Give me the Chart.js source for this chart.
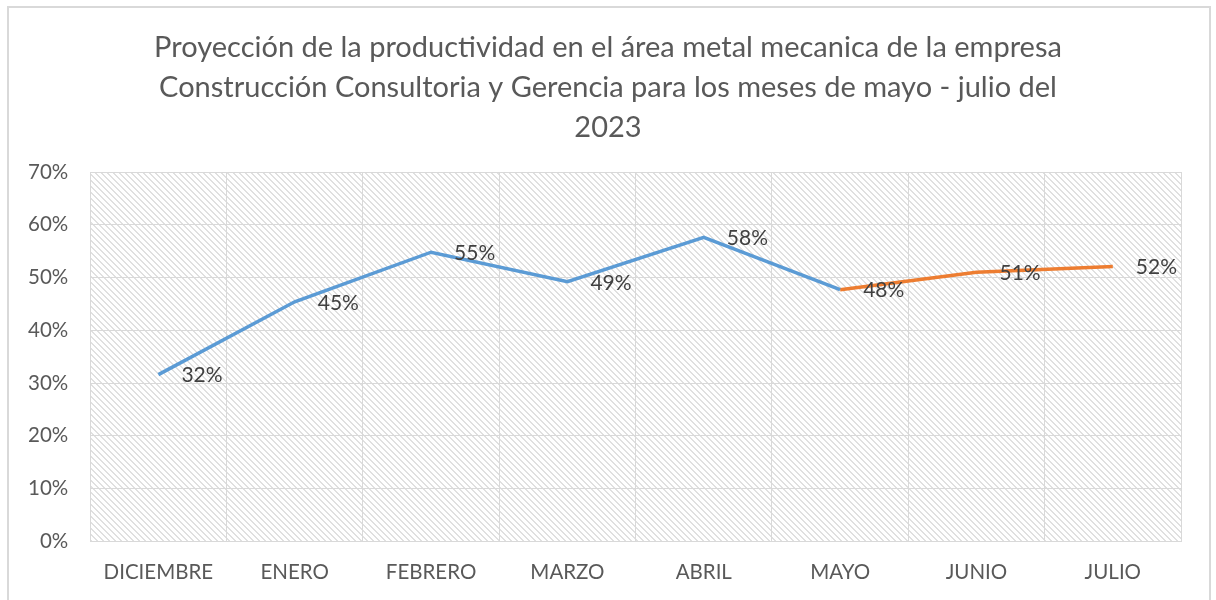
<!DOCTYPE html>
<html>
<head>
<meta charset="utf-8">
<script src="https://cdn.jsdelivr.net/npm/chart.js@4.4.0/dist/chart.umd.min.js"></script>
<style>
  html, body { margin: 0; padding: 0; background: #fff; }
  #wrap { width: 1216px; height: 600px; }
</style>
</head>
<body>
<div id="wrap"><canvas id="chart" width="1216" height="600"></canvas></div>
<script>
const months = ['DICIEMBRE', 'ENERO', 'FEBRERO', 'MARZO', 'ABRIL', 'MAYO', 'JUNIO', 'JULIO'];
const realValues = [31.6, 45.4, 54.8, 49.2, 57.6, 47.7, null, null];
const projValues = [null, null, null, null, null, 47.7, 51.0, 52.1];
const realLabels = ['32%', '45%', '55%', '49%', '58%', null, null, null];
const projLabels = [null, null, null, null, null, '48%', '51%', '52%'];
const titleLines = [
    'Proyección de la productividad en el área metal mecanica de la empresa',
    'Construcción Consultoria y Gerencia para los meses de mayo - julio del',
    '2023'
];

const FONT = 'Lato, "Open Sans", sans-serif';

// light diagonal hatch, drawn pixel by pixel so it stays crisp
function hatchPattern() {
    const n = 6;
    const c = document.createElement('canvas');
    c.width = n; c.height = n;
    const g = c.getContext('2d');
    g.fillStyle = '#ffffff';
    g.fillRect(0, 0, n, n);
    g.fillStyle = '#e0e0e0';
    for (let i = 0; i < n; i++) {
        g.fillRect(i, i, 1, 1);
        g.fillRect((i + 1) % n, i, 1, 1);
    }
    return g.createPattern(c, 'repeat');
}

// frame, hatched plot background and the title (centred on the whole canvas)
const backdrop = {
    id: 'backdrop',
    beforeDraw(chart) {
        const ctx = chart.ctx;
        const a = chart.chartArea;
        ctx.save();
        ctx.strokeStyle = '#d9d9d9';
        ctx.lineWidth = 2;
        ctx.beginPath();
        ctx.moveTo(8, 602);
        ctx.lineTo(8, 7);
        ctx.lineTo(1210, 7);
        ctx.lineTo(1210, 602);
        ctx.stroke();
        ctx.fillStyle = hatchPattern();
        ctx.fillRect(a.left, a.top, a.right - a.left, a.bottom - a.top);

        ctx.font = '29px ' + FONT;
        ctx.fillStyle = '#595959';
        ctx.textAlign = 'center';
        ctx.textBaseline = 'middle';
        titleLines.forEach((t, i) => ctx.fillText(t, chart.width / 2, 48 + i * 40));
        ctx.restore();
    }
};

const pointLabels = {
    id: 'pointLabels',
    afterDatasetsDraw(chart) {
        const ctx = chart.ctx;
        ctx.save();
        ctx.font = '21px ' + FONT;
        ctx.fillStyle = '#404040';
        ctx.textAlign = 'left';
        ctx.textBaseline = 'middle';
        chart.data.datasets.forEach((ds, i) => {
            const meta = chart.getDatasetMeta(i);
            ds.pointText.forEach((t, j) => {
                if (!t) return;
                const p = meta.data[j];
                ctx.fillText(t, p.x + 23, p.y + 1);
            });
        });
        ctx.restore();
    }
};

new Chart(document.getElementById('chart'), {
    type: 'line',
    data: {
        labels: months,
        datasets: [{
            label: 'Real',
            data: realValues,
            pointText: realLabels,
            borderColor: '#5b9bd5',
            backgroundColor: '#5b9bd5',
            borderWidth: 3.5,
            pointRadius: 0,
            fill: false,
            tension: 0
        }, {
            label: 'Proyección',
            data: projValues,
            pointText: projLabels,
            borderColor: '#ed7d31',
            backgroundColor: '#ed7d31',
            borderWidth: 3.5,
            pointRadius: 0,
            fill: false,
            tension: 0
        }]
    },
    options: {
        responsive: false,
        animation: false,
        layout: { padding: { left: 6, right: 35, top: 172, bottom: -4 } },
        plugins: {
            legend: { display: false },
            tooltip: { enabled: false },
            title: { display: false }
        },
        scales: {
            x: {
                offset: true,
                grid: { offset: true, color: '#d9d9d9', lineWidth: 1, drawTicks: false },
                border: { color: '#d9d9d9', width: 1 },
                ticks: { color: '#595959', font: { family: FONT, size: 20.5 }, padding: 19, maxRotation: 0 }
            },
            y: {
                min: 0,
                max: 70,
                grid: { color: '#d9d9d9', lineWidth: 1, drawTicks: false },
                border: { display: false },
                ticks: {
                    stepSize: 10,
                    color: '#595959',
                    font: { family: FONT, size: 20.5 },
                    padding: 22,
                    callback: v => v + '%'
                }
            }
        }
    },
    plugins: [backdrop, pointLabels]
});
</script>
</body>
</html>
